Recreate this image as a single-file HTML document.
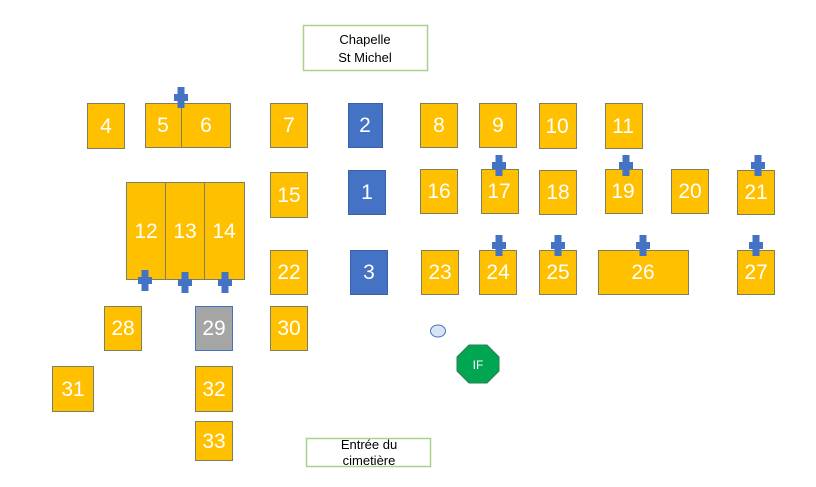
<!DOCTYPE html>
<html><head><meta charset="utf-8"><style>
html,body{margin:0;padding:0;background:#fff;}
svg{display:block;}
text{font-family:"Liberation Sans",sans-serif;}
</style></head><body>
<svg width="816" height="487" viewBox="0 0 816 487" xmlns="http://www.w3.org/2000/svg">
<defs>
<g id="c"><rect x="-3.5" y="0" width="7" height="21"/><rect x="-7" y="7" width="14" height="7"/></g>
</defs>
<rect x="303.5" y="25.5" width="124" height="45" fill="#fff" stroke="#a9d18e" stroke-width="1.5"/>
<text x="365" y="44" font-size="13" text-anchor="middle" fill="#000">Chapelle</text>
<text x="365" y="62" font-size="13" text-anchor="middle" fill="#000">St Michel</text>
<rect x="306.5" y="438.5" width="124" height="28" fill="#fff" stroke="#a9d18e" stroke-width="1.5"/>
<text x="369" y="449" font-size="13" text-anchor="middle" fill="#000">Entrée du</text>
<text x="369" y="465" font-size="13" text-anchor="middle" fill="#000">cimetière</text>
<g stroke="#7f7f60" stroke-width="1" fill="#ffc000">
<rect x="87.5" y="103.5" width="37" height="45"/>
<rect x="145.5" y="103.5" width="36" height="44"/>
<rect x="181.5" y="103.5" width="49" height="44"/>
<rect x="270.5" y="103.5" width="37" height="44"/>
<rect x="420.5" y="103.5" width="37" height="44"/>
<rect x="479.5" y="103.5" width="37" height="44"/>
<rect x="539.5" y="103.5" width="37" height="45"/>
<rect x="605.5" y="103.5" width="37" height="45"/>
<rect x="126.5" y="182.5" width="39" height="97"/>
<rect x="165.5" y="182.5" width="39" height="97"/>
<rect x="204.5" y="182.5" width="40" height="97"/>
<rect x="270.5" y="172.5" width="37" height="45"/>
<rect x="420.5" y="169.5" width="37" height="44"/>
<rect x="481.5" y="169.5" width="37" height="44"/>
<rect x="539.5" y="170.5" width="37" height="44"/>
<rect x="605.5" y="169.5" width="37" height="44"/>
<rect x="671.5" y="169.5" width="37" height="44"/>
<rect x="737.5" y="170.5" width="37" height="44"/>
<rect x="270.5" y="250.5" width="37" height="44"/>
<rect x="421.5" y="250.5" width="37" height="44"/>
<rect x="479.5" y="250.5" width="37" height="44"/>
<rect x="539.5" y="250.5" width="37" height="44"/>
<rect x="598.5" y="250.5" width="90" height="44"/>
<rect x="737.5" y="250.5" width="37" height="44"/>
<rect x="104.5" y="306.5" width="37" height="44"/>
<rect x="270.5" y="306.5" width="37" height="44"/>
<rect x="52.5" y="366.5" width="41" height="45"/>
<rect x="195.5" y="366.5" width="37" height="45"/>
<rect x="195.5" y="421.5" width="37" height="39"/>
</g>
<rect x="195.5" y="306.5" width="37" height="44" fill="#a5a5a5" stroke="#4472c4"/>
<g fill="#4472c4" stroke="#3a62a8">
<rect x="348.5" y="103.5" width="34" height="44"/>
<rect x="348.5" y="170.5" width="37" height="44"/>
<rect x="350.5" y="250.5" width="37" height="44"/>
</g>
<g fill="#fff" font-size="21" text-anchor="middle">
<text x="106" y="133">4</text><text x="163" y="132">5</text><text x="206" y="132">6</text>
<text x="289" y="132">7</text><text x="365" y="132">2</text><text x="439" y="132">8</text>
<text x="498" y="132">9</text><text x="557" y="133">10</text><text x="623" y="133">11</text>
<text x="146" y="238">12</text><text x="185" y="238">13</text><text x="224" y="238">14</text>
<text x="289" y="202">15</text><text x="367" y="199">1</text><text x="439" y="198">16</text>
<text x="499" y="198">17</text><text x="558" y="199">18</text><text x="623" y="198">19</text>
<text x="690" y="198">20</text><text x="756" y="199">21</text>
<text x="289" y="279">22</text><text x="369" y="279">3</text><text x="440" y="279">23</text>
<text x="498" y="279">24</text><text x="558" y="279">25</text><text x="643" y="279">26</text>
<text x="756" y="279">27</text>
<text x="123" y="335">28</text><text x="214" y="335">29</text><text x="289" y="335">30</text>
<text x="73" y="396">31</text><text x="214" y="396">32</text><text x="214" y="448">33</text>
</g>
<g fill="#4472c4">
<use href="#c" x="181" y="87"/>
<use href="#c" x="145" y="270"/>
<use href="#c" x="185" y="272"/>
<use href="#c" x="225" y="272"/>
<use href="#c" x="499" y="155"/>
<use href="#c" x="626" y="155"/>
<use href="#c" x="758" y="155"/>
<use href="#c" x="499" y="235"/>
<use href="#c" x="558" y="235"/>
<use href="#c" x="643" y="235"/>
<use href="#c" x="756" y="235"/>
</g>
<ellipse cx="438" cy="331" rx="7.5" ry="6" fill="#dae3f3" stroke="#4472c4"/>
<polygon points="469,345 487,345 499,357 499,371 487,383 469,383 457,371 457,357" fill="#00a651" stroke="#2e7d4f"/>
<text x="478" y="369" font-size="12" fill="#fff" text-anchor="middle">IF</text>
</svg>
</body></html>
